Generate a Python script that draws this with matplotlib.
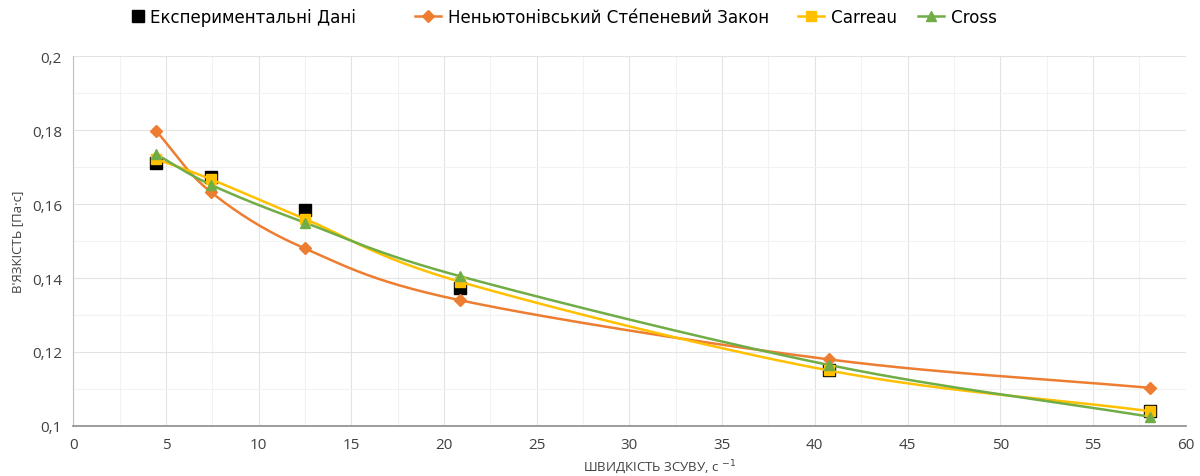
import numpy as np
import matplotlib.pyplot as plt
from matplotlib.lines import Line2D

# shear rate, 1/s
shear_rate = [4.47, 7.44, 12.5, 20.86, 40.75, 58.06]

# viscosity, Pa*s
exp_data = [0.1712, 0.1673, 0.1583, 0.1374, 0.1152, 0.1040]
power_law = [0.1798, 0.1632, 0.1480, 0.1340, 0.1180, 0.1103]
carreau = [0.1722, 0.1667, 0.1560, 0.1390, 0.1150, 0.1040]
cross = [0.1735, 0.1652, 0.1550, 0.1405, 0.1165, 0.1025]

labels = ["Експериментальні Дані", "Неньютонівський Сте́пеневий Закон", "Carreau", "Cross"]
c_orange = "#ED7D31"
c_yellow = "#FFC000"
c_green = "#70AD47"


def smooth(x, y, n=30):
    # Catmull-Rom style smoothing like Excel's "smoothed line"
    x = np.asarray(x, float)
    y = np.asarray(y, float)
    # scale to roughly pixel space so curvature looks right
    sx, sy = 1.0 / 60, 1.0 / 0.1 * 0.33
    px, py = x * sx, y * sy
    px = np.concatenate([[2 * px[0] - px[1]], px, [2 * px[-1] - px[-2]]])
    py = np.concatenate([[2 * py[0] - py[1]], py, [2 * py[-1] - py[-2]]])
    outx, outy = [], []
    t = np.linspace(0, 1, n)
    for i in range(1, len(px) - 2):
        for arr, out in ((px, outx), (py, outy)):
            p0, p1, p2, p3 = arr[i - 1], arr[i], arr[i + 1], arr[i + 2]
            seg = 0.5 * ((2 * p1) + (-p0 + p2) * t + (2 * p0 - 5 * p1 + 4 * p2 - p3) * t ** 2
                         + (-p0 + 3 * p1 - 3 * p2 + p3) * t ** 3)
            out.extend(seg)
    return np.array(outx) / sx, np.array(outy) / sy


fig, ax = plt.subplots(figsize=(12, 4.77), dpi=100)
fig.subplots_adjust(left=0.061, right=0.988, top=0.880, bottom=0.105)

ax.plot(shear_rate, exp_data, linestyle="none", marker="s", color="black", markersize=8, zorder=3)
for vals, col, mk in ((power_law, c_orange, "D"), (carreau, c_yellow, "s"), (cross, c_green, "^")):
    sx, sy = smooth(shear_rate, vals)
    ax.plot(sx, sy, color=col, linewidth=1.8, zorder=4)
    ax.plot(shear_rate, vals, linestyle="none", marker=mk, color=col, markersize=6.5, zorder=5)

ax.set_xlim(0, 60)
ax.set_ylim(0.1, 0.2)
ax.set_xticks(np.arange(0, 61, 5))
ax.set_yticks([0.1, 0.12, 0.14, 0.16, 0.18, 0.2])
ax.set_yticklabels(["0,1", "0,12", "0,14", "0,16", "0,18", "0,2"])
ax.set_xticks(np.arange(0, 61, 2.5), minor=True)
ax.set_yticks(np.arange(0.1, 0.2, 0.01), minor=True)
ax.grid(which="major", color="#e3e3e3", linewidth=0.8)
ax.grid(which="minor", color="#f2f2f2", linewidth=0.8)
ax.set_axisbelow(True)
ax.tick_params(which="both", length=0, labelsize=11, labelcolor="#404040", pad=8)
for t in ax.get_xticklabels() + ax.get_yticklabels():
    t.set_family("Open Sans")

for s in ("top", "right"):
    ax.spines[s].set_visible(False)
ax.spines["left"].set_color("#bfbfbf")
ax.spines["bottom"].set_color("#8c8c8c")
ax.spines["bottom"].set_linewidth(1.2)

ax.set_ylabel("В'ЯЗКІСТЬ [Па·с]", fontsize=9.5, color="#404040", family="Open Sans", labelpad=6)
ax.set_xlabel("ШВИДКІСТЬ ЗСУВУ, с $^{-1}$", fontsize=9.5, color="#404040", family="Open Sans")
ax.xaxis.set_label_coords(0.527, -0.085)

handles = [
    Line2D([], [], linestyle="none", marker="s", color="black", markersize=8),
    Line2D([], [], color=c_orange, marker="D", markersize=6, linewidth=1.8),
    Line2D([], [], color=c_yellow, marker="s", markersize=6.5, linewidth=1.8),
    Line2D([], [], color=c_green, marker="^", markersize=6.5, linewidth=1.8),
]
# Excel spaces the legend entries unevenly, so place each one on its own
leg_x = [0.111, 0.346, 0.665, 0.765]
hlen = [0.5, 1.4, 1.4, 1.4]
for h, lab, lx, hl in zip(handles, labels, leg_x, hlen):
    fig.legend([h], [lab], loc="center left", bbox_to_anchor=(lx, 0.962), frameon=False,
               prop={"family": "DejaVu Sans", "stretch": "condensed", "size": 13.3},
               handlelength=hl, handletextpad=0.4, borderpad=0, borderaxespad=0)

fig.savefig("out.png", dpi=100)
